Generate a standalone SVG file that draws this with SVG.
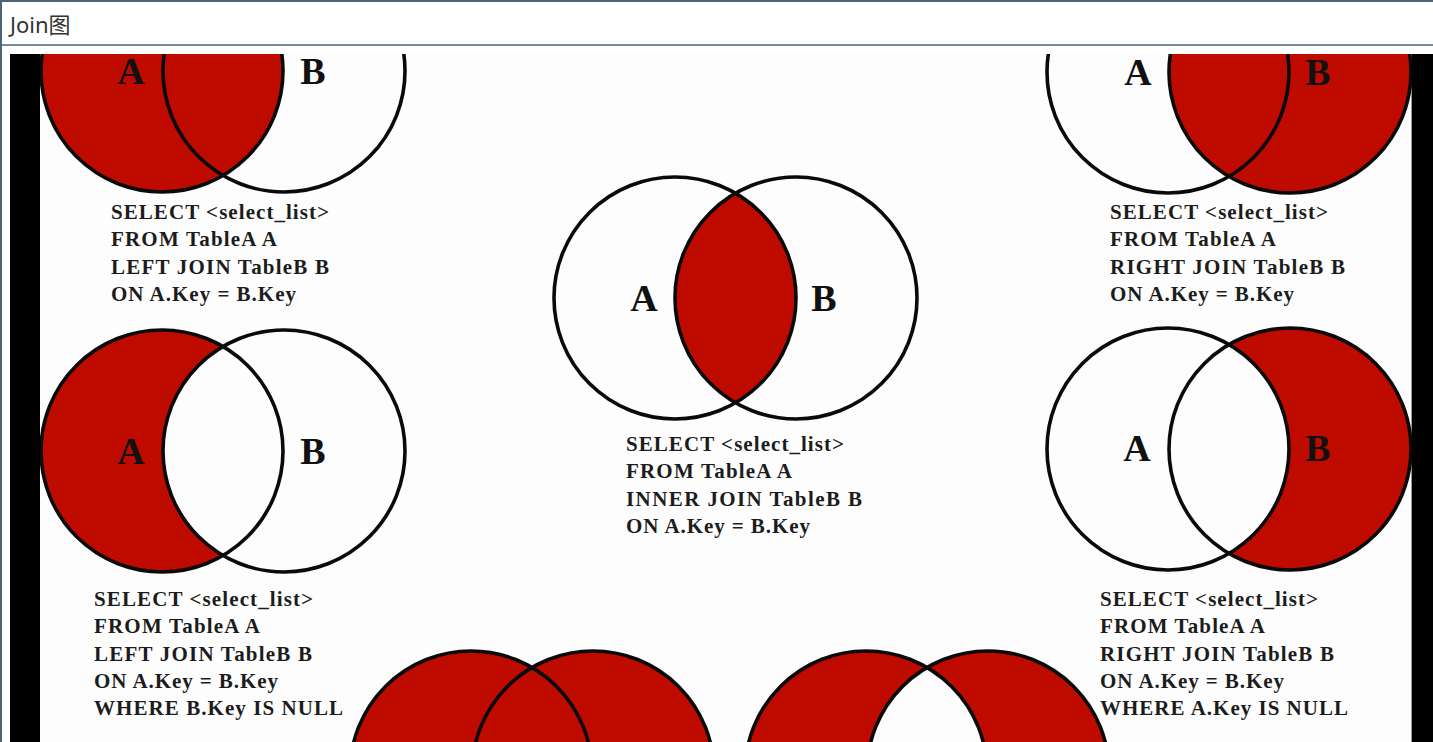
<svg xmlns="http://www.w3.org/2000/svg" width="1433" height="742" viewBox="0 0 1433 742">
<style>
.sql{font-family:"Liberation Serif","Times New Roman",serif;font-weight:bold;font-size:21px;fill:#1c1c1c}
.lbl{font-family:"Liberation Serif","Times New Roman",serif;font-weight:bold;font-size:38px;fill:#111;text-anchor:middle}
.red{fill:#BF0A00}
.wht{fill:#FDFDFD}
.ln{fill:none;stroke:#0a0a0a;stroke-width:3.6}
.title{font-family:"Noto Sans","Noto Sans CJK SC",sans-serif;font-size:22px;fill:#333}
</style>
<defs>
<clipPath id="imgClip"><rect x="40" y="54" width="1372" height="688"/></clipPath>
<clipPath id="innerClip"><circle cx="796" cy="298" r="121"/></clipPath>
<clipPath id="outerClip"><circle cx="988" cy="772" r="121"/></clipPath>
</defs>
<rect x="0" y="0" width="1433" height="742" fill="#ffffff"/>
<g id="window">
<line x1="0" y1="1" x2="1433" y2="1" stroke="#4d6477" stroke-width="2"/>
<line x1="1" y1="0" x2="1" y2="742" stroke="#4d6477" stroke-width="2"/>
<line x1="2" y1="45" x2="1433" y2="45" stroke="#4d6477" stroke-width="1.5"/>
<text class="title" x="10" y="33">Join图</text>
</g>
<rect x="10" y="54" width="30" height="688" fill="#000"/>
<rect x="1412" y="54" width="21" height="688" fill="#000"/>
<rect x="40" y="54" width="1372" height="688" fill="#FDFDFD"/>
<line x1="1411.5" y1="54" x2="1411.5" y2="742" stroke="#999" stroke-width="1"/>
<g clip-path="url(#imgClip)">
<g id="left-join">
<circle class="red" cx="162" cy="71" r="121"/>
<circle class="ln" cx="162" cy="71" r="121"/>
<circle class="ln" cx="284" cy="71" r="121"/>
<text class="lbl" x="131" y="84">A</text>
<text class="lbl" x="313" y="84">B</text>
<text class="sql" x="111" y="219" textLength="218" lengthAdjust="spacing">SELECT &lt;select_list&gt;</text>
<text class="sql" x="111" y="246" textLength="166" lengthAdjust="spacing">FROM TableA A</text>
<text class="sql" x="111" y="274" textLength="218" lengthAdjust="spacing">LEFT JOIN TableB B</text>
<text class="sql" x="111" y="301" textLength="185" lengthAdjust="spacing">ON A.Key = B.Key</text>
</g>
<g id="inner-join">
<circle class="red" cx="675" cy="298" r="121" clip-path="url(#innerClip)"/>
<circle class="ln" cx="675" cy="298" r="121"/>
<circle class="ln" cx="796" cy="298" r="121"/>
<text class="lbl" x="644" y="311">A</text>
<text class="lbl" x="824" y="311">B</text>
<text class="sql" x="626" y="451" textLength="218" lengthAdjust="spacing">SELECT &lt;select_list&gt;</text>
<text class="sql" x="626" y="478" textLength="166" lengthAdjust="spacing">FROM TableA A</text>
<text class="sql" x="626" y="506" textLength="236" lengthAdjust="spacing">INNER JOIN TableB B</text>
<text class="sql" x="626" y="533" textLength="184" lengthAdjust="spacing">ON A.Key = B.Key</text>
</g>
<g id="right-join">
<circle class="red" cx="1290" cy="72" r="121"/>
<circle class="ln" cx="1290" cy="72" r="121"/>
<circle class="ln" cx="1168" cy="72" r="121"/>
<text class="lbl" x="1138" y="85">A</text>
<text class="lbl" x="1318" y="85">B</text>
<text class="sql" x="1110" y="219" textLength="218" lengthAdjust="spacing">SELECT &lt;select_list&gt;</text>
<text class="sql" x="1110" y="246" textLength="166" lengthAdjust="spacing">FROM TableA A</text>
<text class="sql" x="1110" y="274" textLength="235" lengthAdjust="spacing">RIGHT JOIN TableB B</text>
<text class="sql" x="1110" y="301" textLength="184" lengthAdjust="spacing">ON A.Key = B.Key</text>
</g>
<g id="left-only">
<circle class="red" cx="162" cy="451" r="121"/>
<circle class="wht" cx="284" cy="451" r="121"/>
<circle class="ln" cx="162" cy="451" r="121"/>
<circle class="ln" cx="284" cy="451" r="121"/>
<text class="lbl" x="131" y="464">A</text>
<text class="lbl" x="313" y="464">B</text>
<text class="sql" x="94" y="606" textLength="219" lengthAdjust="spacing">SELECT &lt;select_list&gt;</text>
<text class="sql" x="94" y="633" textLength="166" lengthAdjust="spacing">FROM TableA A</text>
<text class="sql" x="94" y="661" textLength="218" lengthAdjust="spacing">LEFT JOIN TableB B</text>
<text class="sql" x="94" y="688" textLength="184" lengthAdjust="spacing">ON A.Key = B.Key</text>
<text class="sql" x="94" y="715" textLength="249" lengthAdjust="spacing">WHERE B.Key IS NULL</text>
</g>
<g id="right-only">
<circle class="red" cx="1290" cy="449" r="121"/>
<circle class="wht" cx="1168" cy="449" r="121"/>
<circle class="ln" cx="1168" cy="449" r="121"/>
<circle class="ln" cx="1290" cy="449" r="121"/>
<text class="lbl" x="1137" y="461">A</text>
<text class="lbl" x="1318" y="461">B</text>
<text class="sql" x="1100" y="606" textLength="218" lengthAdjust="spacing">SELECT &lt;select_list&gt;</text>
<text class="sql" x="1100" y="633" textLength="165" lengthAdjust="spacing">FROM TableA A</text>
<text class="sql" x="1100" y="661" textLength="234" lengthAdjust="spacing">RIGHT JOIN TableB B</text>
<text class="sql" x="1100" y="688" textLength="184" lengthAdjust="spacing">ON A.Key = B.Key</text>
<text class="sql" x="1100" y="715" textLength="248" lengthAdjust="spacing">WHERE A.Key IS NULL</text>
</g>
<g id="full-outer">
<circle class="red" cx="471" cy="772" r="121"/>
<circle class="red" cx="593" cy="772" r="121"/>
<circle class="ln" cx="471" cy="772" r="121"/>
<circle class="ln" cx="593" cy="772" r="121"/>
</g>
<g id="full-outer-exclusive">
<circle class="red" cx="866" cy="772" r="121"/>
<circle class="red" cx="988" cy="772" r="121"/>
<circle class="wht" cx="866" cy="772" r="121" clip-path="url(#outerClip)"/>
<circle class="ln" cx="866" cy="772" r="121"/>
<circle class="ln" cx="988" cy="772" r="121"/>
</g>
</g>
<g id="connectors"/>
</svg>
